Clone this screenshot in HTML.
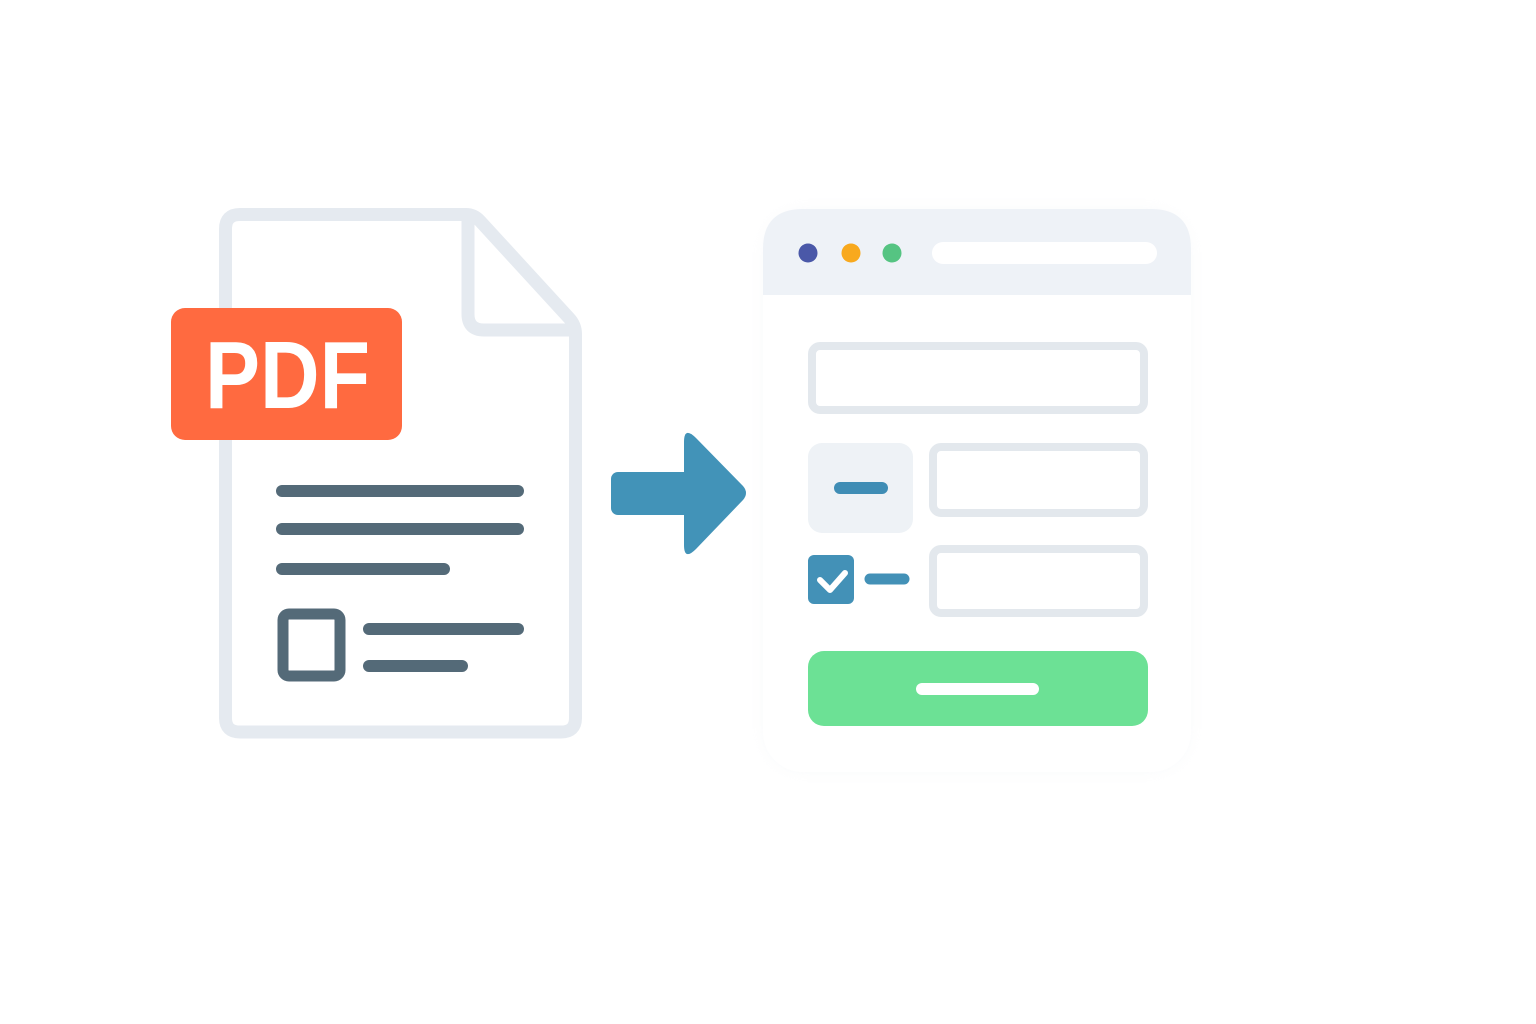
<!DOCTYPE html>
<html><head><meta charset="utf-8"><style>html,body{margin:0;padding:0;background:#fff}svg{display:block}</style></head>
<body>
<svg width="1536" height="1024" viewBox="0 0 1536 1024" xmlns="http://www.w3.org/2000/svg">
<defs>
<filter id="sh" x="-10%" y="-10%" width="120%" height="120%"><feGaussianBlur stdDeviation="6"/></filter>
</defs>
<rect width="1536" height="1024" fill="#fff"/>
<path d="M240 214.5 H466 Q474 214.5 480 221 L569 318 Q575.5 325 575.5 334 V718 Q575.5 732 561 732 H240 Q225.5 732 225.5 718 V229 Q225.5 214.5 240 214.5 Z" fill="#fff" stroke="#e5eaf0" stroke-width="13" stroke-linejoin="round"/>
<path d="M468 218 V314 Q468 330 484 330 H572" fill="none" stroke="#e5eaf0" stroke-width="13" stroke-linejoin="round"/>
<rect x="171" y="308" width="231" height="132" rx="14" fill="#ff6a40"/>
<text x="205" y="408" textLength="165" lengthAdjust="spacingAndGlyphs" font-family="Liberation Sans, sans-serif" font-weight="bold" font-size="96" fill="#fff">PDF</text>
<g stroke="#546a78" stroke-width="12" stroke-linecap="round" fill="none">
<line x1="282" y1="491" x2="518" y2="491"/>
<line x1="282" y1="529" x2="518" y2="529"/>
<line x1="282" y1="569" x2="444" y2="569"/>
<line x1="369" y1="629" x2="518" y2="629"/>
<line x1="369" y1="666" x2="462" y2="666"/>
<rect x="283" y="614" width="57" height="62" rx="6" stroke-width="11"/>
</g>
<rect x="611" y="472" width="84" height="43" rx="7" fill="#4293b8"/>
<path d="M684 442 Q684 426 696 438 L743 486 Q749 493 743 500 L696 549 Q684 561 684 545 Z" fill="#4293b8"/>
<rect x="763" y="209" width="428" height="563" rx="40" fill="#e8ecf0" filter="url(#sh)" opacity="0.25"/>
<rect x="763" y="209" width="428" height="563" rx="40" fill="#fff"/>
<path d="M763 295 V249 Q763 209 803 209 H1151 Q1191 209 1191 249 V295 Z" fill="#eef2f7"/>
<circle cx="808" cy="253" r="9.5" fill="#4a58a8"/>
<circle cx="851" cy="253" r="9.5" fill="#f8a91e"/>
<circle cx="892" cy="253" r="9.5" fill="#55c482"/>
<rect x="932" y="242" width="225" height="22" rx="11" fill="#fff"/>
<g fill="#fff" stroke="#e3e8ed" stroke-width="8">
<rect x="812" y="346" width="332" height="64" rx="8"/>
<rect x="933" y="447" width="211" height="66" rx="8"/>
<rect x="933" y="549" width="211" height="64" rx="8"/>
</g>
<rect x="808" y="443" width="105" height="90" rx="14" fill="#eef2f6"/>
<line x1="840" y1="488" x2="882" y2="488" stroke="#3f8db5" stroke-width="12" stroke-linecap="round"/>
<rect x="808" y="555" width="46" height="49" rx="6" fill="#4391b7"/>
<path d="M820 580 L830 590 L845 573" fill="none" stroke="#fff" stroke-width="6" stroke-linecap="round" stroke-linejoin="round"/>
<line x1="870" y1="579" x2="904" y2="579" stroke="#4391b7" stroke-width="11" stroke-linecap="round"/>
<rect x="808" y="651" width="340" height="75" rx="16" fill="#6ce195"/>
<line x1="922" y1="689" x2="1033" y2="689" stroke="#fff" stroke-width="12" stroke-linecap="round"/>
</svg>
</body></html>
